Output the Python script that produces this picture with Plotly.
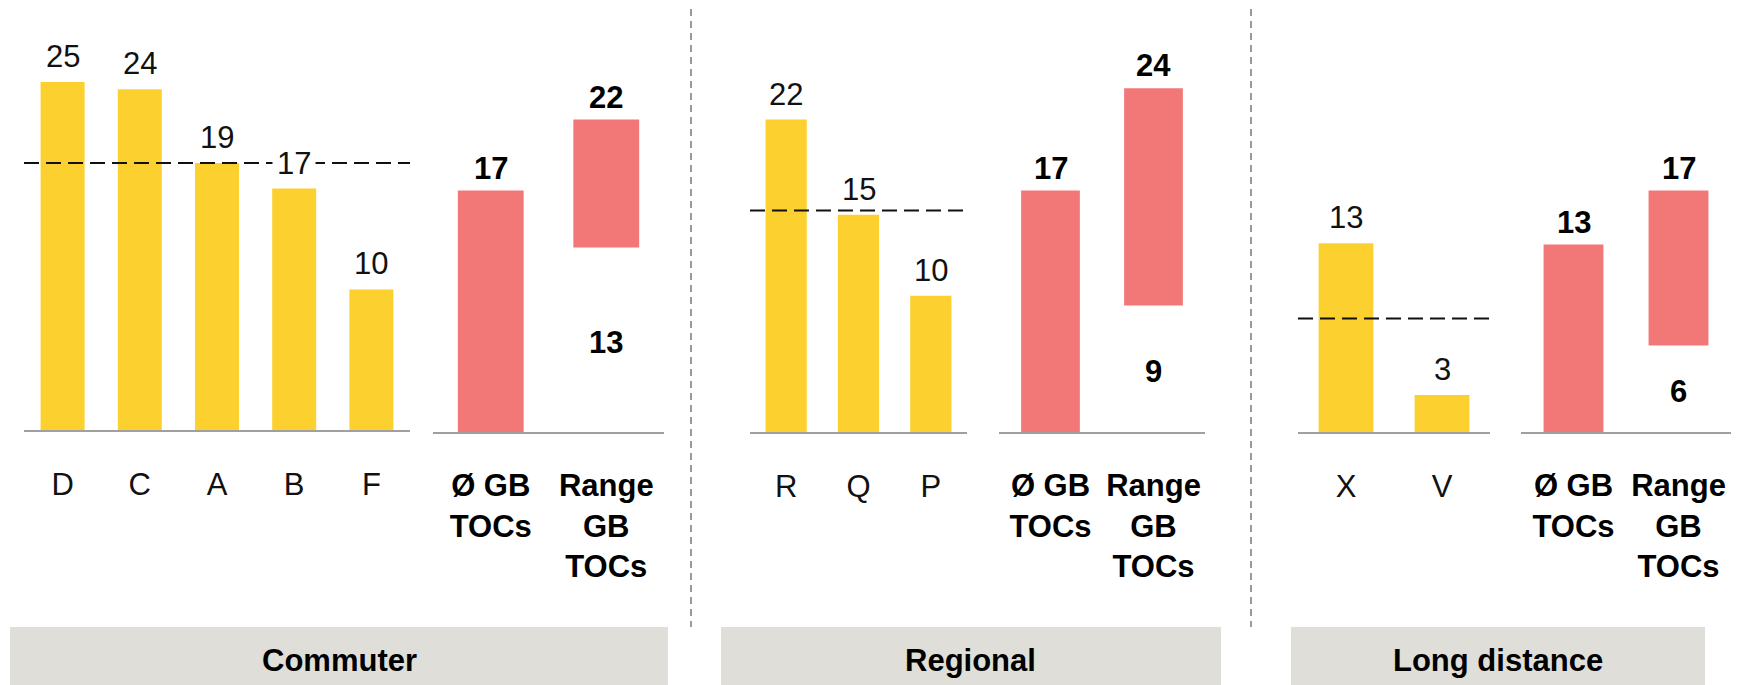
import plotly.graph_objects as go

# ---------------- data ----------------
segments = ["Commuter", "Regional", "Long distance"]

commuter_cats = ["D", "C", "A", "B", "F"]
commuter_vals = [24.5, 24.0, 18.8, 17.0, 9.9]
commuter_labels = ["25", "24", "19", "17", "10"]
commuter_avg_line = 18.8

regional_cats = ["R", "Q", "P"]
regional_vals = [22.0, 15.3, 9.6]
regional_labels = ["22", "15", "10"]
regional_avg_line = 15.6

long_cats = ["X", "V"]
long_vals = [13.3, 2.6]
long_labels = ["13", "3"]
long_avg_line = 8.0

gb_cats = ["Ø GB<br>TOCs", "Range<br>GB<br>TOCs"]
gb_avg = [17.0, 17.0, 13.2]
gb_avg_labels = ["17", "17", "13"]
gb_min = [13.0, 8.9, 6.1]
gb_min_labels = ["13", "9", "6"]
gb_max = [22.0, 24.2, 17.0]
gb_max_labels = ["22", "24", "17"]

# ---------------- style ----------------
W, H = 1744, 685
YELLOW = "#FCD02E"
RED = "#F27777"
AXIS_GRAY = "#A0A0A0"
BOX_GRAY = "#DFDED9"
FONT = "Liberation Sans, Arial, sans-serif"
FS = 31

def fx(px):
    return px / W

def fy(px):
    return 1 - px / H

# pixel layouts of the six sub-plots: (x0, x1, baseline)
yellow_boxes = [(24, 410, 430), (750, 967, 432), (1298, 1490, 432)]
red_boxes = [(433, 664, 432), (999, 1205, 432), (1521, 1731, 432)]
YMAX = 28
PX_PER_UNIT = 14.2

groups = [
    (commuter_cats, commuter_vals, commuter_labels, commuter_avg_line),
    (regional_cats, regional_vals, regional_labels, regional_avg_line),
    (long_cats, long_vals, long_labels, long_avg_line),
]

fig = go.Figure()
layout_axes = {}
annotations = []
shapes = []

ax = 0
for i, (cats, vals, labels, avg_line) in enumerate(groups):
    # ---- yellow subplot ----
    ax += 1
    xa = "x" if ax == 1 else f"x{ax}"
    ya = "y" if ax == 1 else f"y{ax}"
    x0, x1, base = yellow_boxes[i]
    fig.add_trace(go.Bar(x=cats, y=vals, marker_color=YELLOW, marker_line_width=0,
                         xaxis=xa, yaxis=ya, showlegend=False, hoverinfo="skip"))
    layout_axes[f"xaxis{'' if ax == 1 else ax}"] = dict(
        domain=[fx(x0), fx(x1)], anchor=ya, type="category",
        showline=True, linecolor=AXIS_GRAY, linewidth=2, showgrid=False, zeroline=False,
        ticks="", ticklabelstandoff=26,
        tickfont=dict(family=FONT, size=FS, color="#111111"), fixedrange=True)
    layout_axes[f"yaxis{'' if ax == 1 else ax}"] = dict(
        domain=[fy(base), fy(base - YMAX * PX_PER_UNIT)], anchor=xa, range=[0, YMAX],
        visible=False, fixedrange=True)
    shapes.append(dict(type="line", xref=f"{xa} domain", yref=ya, x0=0, x1=1,
                       y0=avg_line, y1=avg_line,
                       line=dict(color="#111111", width=2, dash="15px,7px"), layer="above"))
    for c, v, lab in zip(cats, vals, labels):
        covers_line = (v + 0.9) <= avg_line <= (v + 2.6)
        annotations.append(dict(x=c, y=v, xref=xa, yref=ya, text=lab, showarrow=False,
                                yanchor="bottom", yshift=3,
                                bgcolor="white" if covers_line else "rgba(0,0,0,0)",
                                borderpad=4,
                                font=dict(family=FONT, size=FS, color="#111111")))

    # ---- red subplot ----
    ax += 1
    xa = f"x{ax}"
    ya = f"y{ax}"
    x0, x1, base = red_boxes[i]
    heights = [gb_avg[i], gb_max[i] - gb_min[i]]
    bases = [0, gb_min[i]]
    fig.add_trace(go.Bar(x=gb_cats, y=heights, base=bases, marker_color=RED,
                         marker_line_width=0, xaxis=xa, yaxis=ya, showlegend=False,
                         hoverinfo="skip"))
    layout_axes[f"xaxis{ax}"] = dict(
        domain=[fx(x0), fx(x1)], anchor=ya, type="category",
        showline=True, linecolor=AXIS_GRAY, linewidth=2, showgrid=False, zeroline=False,
        ticks="", ticklabelstandoff=25,
        tickvals=gb_cats, ticktext=[f"<b>{t}</b>" for t in gb_cats],
        tickfont=dict(family=FONT, size=FS, color="#000000"), fixedrange=True)
    layout_axes[f"yaxis{ax}"] = dict(
        domain=[fy(base), fy(base - YMAX * PX_PER_UNIT)], anchor=xa, range=[0, YMAX],
        visible=False, fixedrange=True)
    annotations.append(dict(x=gb_cats[0], y=gb_avg[i], xref=xa, yref=ya,
                            text=f"<b>{gb_avg_labels[i]}</b>", showarrow=False,
                            yanchor="bottom", yshift=3,
                            font=dict(family=FONT, size=FS, color="#000000")))
    annotations.append(dict(x=gb_cats[1], y=gb_max[i], xref=xa, yref=ya,
                            text=f"<b>{gb_max_labels[i]}</b>", showarrow=False,
                            yanchor="bottom", yshift=3,
                            font=dict(family=FONT, size=FS, color="#000000")))
    annotations.append(dict(x=gb_cats[1], y=gb_min[i] / 2, xref=xa, yref=ya,
                            text=f"<b>{gb_min_labels[i]}</b>", showarrow=False,
                            yanchor="middle", yshift=-3,
                            font=dict(family=FONT, size=FS, color="#000000")))

# segment boxes and separators
seg_boxes = [(10, 668), (721, 1221), (1291, 1705)]
for (bx0, bx1), name in zip(seg_boxes, segments):
    shapes.append(dict(type="rect", xref="paper", yref="paper",
                       x0=fx(bx0), x1=fx(bx1), y0=fy(685), y1=fy(627),
                       fillcolor=BOX_GRAY, line=dict(width=0), layer="below"))
    annotations.append(dict(x=fx((bx0 + bx1) / 2), y=fy(660), xref="paper", yref="paper",
                            text=f"<b>{name}</b>", showarrow=False,
                            xanchor="center", yanchor="middle",
                            font=dict(family=FONT, size=FS, color="#000000")))
for sx in (691, 1251):
    shapes.append(dict(type="line", xref="paper", yref="paper",
                       x0=fx(sx), x1=fx(sx), y0=fy(9), y1=fy(627),
                       line=dict(color="#9A9A9A", width=2, dash="7px,5px")))

fig.update_layout(
    width=W, height=H,
    margin=dict(l=0, r=0, t=0, b=0),
    paper_bgcolor="white", plot_bgcolor="rgba(0,0,0,0)",
    bargap=0.43, barmode="overlay",
    showlegend=False,
    shapes=shapes, annotations=annotations,
    font=dict(family=FONT, size=FS),
    **layout_axes,
)

fig.write_html("out.html", config={"displayModeBar": False},
               post_script="document.body.style.margin='0';")
